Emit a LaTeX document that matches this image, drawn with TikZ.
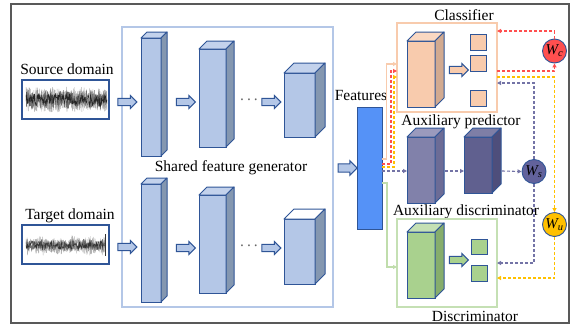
\documentclass[tikz,border=0pt]{standalone}
\usepackage{fontspec}
\setmainfont{Liberation Serif}
\usetikzlibrary{calc,arrows.meta,shapes.arrows}

\definecolor{framegray}{HTML}{595959}
\definecolor{edgeblue}{HTML}{2F5597}
\definecolor{genline}{HTML}{B4C7E7}
\definecolor{genfront}{HTML}{B4C7E7}
\definecolor{genside}{HTML}{8497B0}
\definecolor{gentop}{HTML}{C3D2EC}
\definecolor{featblue}{HTML}{5592F7}
\definecolor{peach}{HTML}{F8CBAD}
\definecolor{peachside}{HTML}{D2AA90}
\definecolor{peachtop}{HTML}{FAD8C2}
\definecolor{apfront}{HTML}{8181AA}
\definecolor{apside}{HTML}{6C6C96}
\definecolor{aptop}{HTML}{9A9ABD}
\definecolor{apfrontb}{HTML}{60608F}
\definecolor{apsideb}{HTML}{4E4E7B}
\definecolor{aptopb}{HTML}{7E7EA6}
\definecolor{grn}{HTML}{A9D18E}
\definecolor{grnside}{HTML}{86AD6C}
\definecolor{grntop}{HTML}{C5E0B4}
\definecolor{grnline}{HTML}{C5E0B4}
\definecolor{redw}{HTML}{FF4F4F}
\definecolor{yelw}{HTML}{FFC000}
\definecolor{purw}{HTML}{62629C}
\definecolor{purline}{HTML}{7373A6}

\tikzset{
  lbl/.style={font=\fontsize{15.5}{18}\selectfont, anchor=base, inner sep=0pt},
  face/.style={draw=edgeblue, line width=1pt, inner sep=0pt, outer sep=0pt, anchor=north west},
  cubeline/.style={draw=edgeblue, line width=1pt, line join=round},
  panel/.style={line width=1.2pt, inner sep=0pt, outer sep=0pt, anchor=north west},
  wavebox/.style={draw=edgeblue, line width=1.2pt, fill=white, inner sep=0pt, outer sep=0pt, anchor=north west, minimum width=87pt, minimum height=39pt},
  blockarrow/.style={single arrow, draw=edgeblue, line width=1pt, minimum height=19pt, inner sep=3.2pt, outer sep=0pt, single arrow head extend=2.8pt, single arrow head indent=0pt},
  tip/.style={-{Triangle[length=4pt,width=4pt]}},
  dashlink/.style={dash pattern=on 3pt off 2pt, line width=1.1pt, tip},
  weight/.style={circle, draw=edgeblue, line width=0.9pt, minimum size=24pt, inner sep=0pt, font=\fontsize{15}{15}\selectfont\itshape},
}

% cuboid: name, x1, y1, x2, y2 (front face), depth, front, side, top colours
\newcommand\cuboid[9]{%
  \node[face, fill=#7, minimum width={#4pt-#2pt}, minimum height={#5pt-#3pt}] (#1) at (#2,#3) {};
  \draw[cubeline, fill=#9] (#1.north west) -- ++(#6,-#6) -- ($(#1.north east)+(#6,-#6)$) -- (#1.north east) -- cycle;
  \draw[cubeline, fill=#8] (#1.north east) -- ++(#6,-#6) -- ($(#1.south east)+(#6,-#6)$) -- (#1.south east) -- cycle;
}

\begin{document}
\begin{tikzpicture}[x=1pt,y=-1pt]
\useasboundingbox (0,0) rectangle (580,327);
\fill[white] (0,0) rectangle (580,327);

% outer frame
\draw[framegray, line width=2pt] (11,4) rectangle (569,323);

% shared feature generator panel
\node[panel, draw=genline, minimum width=211pt, minimum height=280pt] (gen) at (122,27) {};
\node[lbl] (genlbl) at (231,171) {Shared feature generator};

% input signals
\node[lbl] (srclbl) at (67,74) {Source domain};
\node[wavebox] (src) at (22,80) {};
\node[lbl] (tgtlbl) at (70,219.5) {Target domain};
\node[wavebox] (tgt) at (22,225) {};

\pgfmathsetseed{17}
\begin{scope}
  \clip (src.north west) rectangle (src.south east);
  \draw[black!30, line width=0.4pt] plot[domain=26:107, samples=400, variable=\t] (\t,{99.5+(10+3*abs(sin(\t*23)))*rand});
  \draw[black!55, line width=0.4pt] plot[domain=26:107, samples=350, variable=\t] (\t,{99.5+(7+3*abs(sin(\t*41)))*rand});
  \draw[black!85, line width=0.35pt] plot[domain=26:107, samples=250, variable=\t] (\t,{99.5+(4+4*abs(sin(\t*17)))*rand});
\end{scope}
\begin{scope}
  \clip (tgt.north west) rectangle (tgt.south east);
  \draw[black!30, line width=0.4pt] plot[domain=26:105, samples=350, variable=\t] (\t,{246+(5+5*abs(sin(\t*11)))*rand});
  \draw[black!55, line width=0.35pt] plot[domain=26:105, samples=300, variable=\t] (\t,{245.5+(3.5+3*abs(sin(\t*29)))*rand});
  \draw[black!80, line width=0.35pt] plot[domain=26:105, samples=220, variable=\t] (\t,{245.5+(2+3*abs(sin(\t*19)))*rand});
  \draw[black!80, line width=0.5pt] (105.5,234) -- (105.5,256);
\end{scope}

% generator, upper branch
\node[blockarrow, fill=genfront] (sa1) at (125.5,102) {};
\cuboid{s1}{141}{38}{161}{156}{6}{genfront}{genside}{gentop}
\node[blockarrow, fill=genfront] (sa2) at (184,102) {};
\cuboid{s2}{199}{49}{226}{147}{8}{genfront}{genside}{gentop}
\node[font=\fontsize{15.5}{18}\selectfont, text=black!60, inner sep=0pt] (sdots) at (249,100) {.\hspace{3pt}.\hspace{3pt}.};
\node[blockarrow, fill=genfront] (sa3) at (269.5,102) {};
\cuboid{s3}{284}{73}{315}{137}{10}{genfront}{genside}{gentop}

% generator, lower branch
\node[blockarrow, fill=genfront] (ta1) at (125.5,247) {};
\cuboid{t1}{141}{184}{161}{302}{6}{genfront}{genside}{gentop}
\node[blockarrow, fill=genfront] (ta2) at (184,248) {};
\cuboid{t2}{199}{195}{226}{293}{8}{genfront}{genside}{gentop}
\node[font=\fontsize{15.5}{18}\selectfont, text=black!60, inner sep=0pt] (tdots) at (249,246) {.\hspace{3pt}.\hspace{3pt}.};
\node[blockarrow, fill=genfront] (ta3) at (269.5,248) {};
\cuboid{t3}{284}{219}{315}{284}{10}{genfront}{genside}{white}

% features
\node[blockarrow, fill=genfront, single arrow head extend=3.2pt, inner sep=3.6pt] (fa) at (345.5,168) {};
\node[lbl] (featlbl) at (361,100) {Features};
\node[face, fill=featblue, minimum width=25pt, minimum height=122pt] (feat) at (357,107) {};

% classifier
\node[lbl] (clslbl) at (464,20) {Classifier};
\node[panel, draw=peach, minimum width=100pt, minimum height=89pt] (clsbox) at (397,23) {};
\cuboid{c1}{407}{41}{435}{107}{9}{peach}{peachside}{peachtop}
\node[blockarrow, fill=peach] (ca) at (457,70) {};
\node[face, fill=peach, minimum width=16pt, minimum height=16pt] (cq1) at (470,34) {};
\node[face, fill=peach, minimum width=16pt, minimum height=16pt] (cq2) at (470,55) {};
\node[face, fill=peach, minimum width=16pt, minimum height=16pt] (cq3) at (470,90) {};

% auxiliary predictor / discriminator
\node[lbl] (aplbl) at (461,125) {Auxiliary predictor};
\cuboid{ap1}{407}{137}{435}{203}{9}{apfront}{apside}{aptop}
\cuboid{ap2}{464}{137}{492}{193}{9}{apfrontb}{apsideb}{aptopb}
\node[lbl] (adlbl) at (466,215) {Auxiliary discriminator};

% discriminator
\node[panel, draw=grnline, minimum width=100pt, minimum height=88pt] (disbox) at (397,219) {};
\cuboid{d1}{407}{232}{435}{298}{9}{grn}{grnside}{grntop}
\node[blockarrow, fill=grn] (da) at (457,260) {};
\node[face, fill=grn, minimum width=16pt, minimum height=15pt] (dq1) at (471,239) {};
\node[face, fill=grn, minimum width=16pt, minimum height=16pt] (dq2) at (471,265) {};
\node[lbl] (dislbl) at (475,321) {Discriminator};

% weights
\node[weight, fill=redw] (wc) at (554.5,51) {W\textsubscript{c}};
\node[weight, fill=purw] (ws) at (534,171.5) {W\textsubscript{s}};
\node[weight, fill=yelw] (wu) at (554.5,224.5) {W\textsubscript{u}};

% links from the feature bar
\draw[peach, line width=1.5pt, tip] (feat.east |- 0,159) -| (386.5,64) -- (clsbox.west |- 0,64);
\draw[redw, dashlink] (feat.east |- 0,164) -| (391,71) -- (clsbox.west |- 0,71);
\draw[yelw, dashlink] (feat.east |- 0,167) -| (394,77) -- (clsbox.west |- 0,77);
\draw[grnline!80!grn, line width=1.5pt, tip] (feat.east |- 0,183) -| (387,267) -- (disbox.west |- 0,267);
\draw[purline, dashlink] (feat.east |- 0,171) -- (ap1.west |- 0,171);
\draw[purline, dashlink] (445,171) -- (ap2.west |- 0,171);
\draw[purline, dashlink] (502,171) -- (ws.west);

% weight feedback loops
\draw[redw, dashlink] (clsbox.east |- 0,71) -| (wc.south);
\draw[redw, dashlink] (wc.north) |- (clsbox.east |- 0,31);
\draw[yelw, dashlink] (clsbox.east |- 0,77) -| (wu.north);
\draw[yelw, dashlink] (wu.south) |- (disbox.east |- 0,278);
\draw[purline, dashlink] (ws.north) |- (clsbox.east |- 0,83);
\draw[purline, dashlink] (ws.south) |- (disbox.east |- 0,263);
\end{tikzpicture}
\end{document}
